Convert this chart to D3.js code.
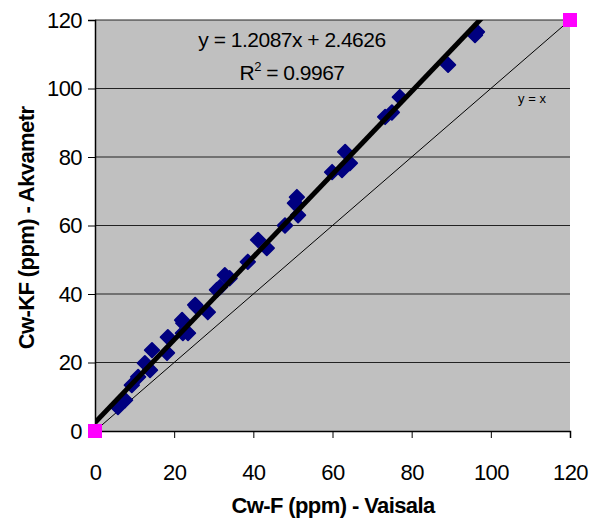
<!DOCTYPE html>
<html>
<head>
<meta charset="utf-8">
<script src="https://cdn.jsdelivr.net/npm/d3@7"></script>
<style>
  html, body { margin: 0; padding: 0; background: #fff; }
  svg { display: block; font-family: "Liberation Sans", Arial, sans-serif; }
</style>
</head>
<body>
<div id="chart"></div>
<script>
(function(){
  // Measured points: Vaisala (x) vs Akvametr (y), ppm.
  const vaisala = [5.8, 7.6, 9.3, 10.9, 12.6, 13.9, 14.4, 18.2, 18.4, 22.2, 22.0, 23.5, 25.3, 28.5,
    22.3, 25.7, 30.8, 31.6, 32.8, 34.0, 38.6, 41.2, 43.4, 48.0, 50.5, 51.0, 51.3,
    59.9, 62.4, 63.2, 64.4, 73.3, 75.0, 77.0, 89.2, 96.0, 96.5];
  const akvametr = [7.0, 9.0, 13.4, 15.8, 19.8, 17.8, 23.6, 22.8, 27.4, 28.6, 32.4, 28.6, 36.8, 34.7,
    31.5, 36.2, 41.2, 42.0, 45.5, 44.6, 49.4, 55.8, 53.4, 60.0, 66.5, 68.3, 63.0,
    75.6, 76.2, 81.5, 78.2, 91.7, 93.0, 97.5, 106.9, 115.6, 116.5];
  // Reference points drawn in magenta (ends of the y = x line).
  const refX = [0, 120];
  const refY = [0, 120];
  const ticks = [0, 20, 40, 60, 80, 100, 120];
  const slope = 1.2087, intercept = 2.4626;

  const width = 590, height = 520;
  const margin = {top: 20, right: 20, bottom: 89, left: 95};
  const innerW = width - margin.left - margin.right;
  const innerH = height - margin.top - margin.bottom;

  const svg = d3.select('#chart').append('svg')
    .attr('width', width).attr('height', height);
  const plot = svg.append('g').attr('transform', `translate(${margin.left},${margin.top})`);

  const x = d3.scaleLinear().domain([0, 120]).range([0, innerW]);
  const y = d3.scaleLinear().domain([0, 120]).range([innerH, 0]);

  plot.append('rect').attr('width', innerW).attr('height', innerH).attr('fill', '#c0c0c0');

  svg.append('clipPath').attr('id', 'clip')
    .append('rect').attr('width', innerW).attr('height', innerH);

  // Horizontal grid lines.
  plot.append('g').selectAll('line')
    .data(ticks.filter(t => t > 0))
    .join('line')
    .attr('x1', 0).attr('x2', innerW)
    .attr('y1', d => y(d)).attr('y2', d => y(d))
    .attr('stroke', '#222').attr('stroke-width', 1);

  const xAxis = plot.append('g')
    .attr('transform', `translate(0,${innerH})`)
    .call(d3.axisBottom(x).tickValues(ticks).tickSize(7).tickPadding(26).tickFormat(d3.format('d')));
  const yAxis = plot.append('g')
    .call(d3.axisLeft(y).tickValues(ticks).tickSize(7).tickPadding(6).tickFormat(d3.format('d')));
  [xAxis, yAxis].forEach(g => {
    g.selectAll('path.domain').attr('stroke', '#000').attr('stroke-width', 1.5);
    g.selectAll('.tick line').attr('stroke', '#000');
    g.selectAll('.tick text').attr('fill', '#000')
      .style('font-size', '22px').style('letter-spacing', '-0.6px')
      .style('font-family', '"Liberation Sans", Arial, sans-serif');
  });

  const marks = plot.append('g').attr('clip-path', 'url(#clip)');

  // y = x reference line.
  marks.append('line')
    .attr('x1', x(0)).attr('y1', y(0)).attr('x2', x(120)).attr('y2', y(120))
    .attr('stroke', '#000').attr('stroke-width', 1);

  // Data diamonds.
  const diamond = d3.symbol().type(d3.symbolDiamond2).size(135);
  marks.append('g').selectAll('path')
    .data(vaisala.map((v, i) => [v, akvametr[i]]))
    .join('path')
    .attr('d', diamond)
    .attr('transform', d => `translate(${x(d[0])},${y(d[1])})`)
    .attr('fill', '#000080')
    .attr('stroke', '#000080').attr('stroke-width', 1.8).attr('stroke-linejoin', 'round');

  // Linear trendline.
  marks.append('line')
    .attr('x1', x(0)).attr('y1', y(intercept))
    .attr('x2', x(120)).attr('y2', y(slope * 120 + intercept))
    .attr('stroke', '#000').attr('stroke-width', 5);

  // Magenta reference squares (not clipped).
  plot.append('g').selectAll('rect')
    .data(refX.map((v, i) => [v, refY[i]]))
    .join('rect')
    .attr('x', d => x(d[0]) - 7).attr('y', d => y(d[1]) - 7)
    .attr('width', 14).attr('height', 14)
    .attr('fill', '#ff00ff');

  // Equation labels.
  plot.append('text')
    .attr('x', 197).attr('y', 27)
    .attr('text-anchor', 'middle').style('font-size', '21px').style('letter-spacing', '-0.5px')
    .attr('fill', '#000')
    .text(`y = ${slope}x + ${intercept}`);
  const r2 = plot.append('text')
    .attr('x', 197).attr('y', 60)
    .attr('text-anchor', 'middle').style('font-size', '21px').style('letter-spacing', '-0.5px')
    .attr('fill', '#000');
  r2.append('tspan').text('R');
  r2.append('tspan').attr('dy', -9).style('font-size', '13px').text('2');
  r2.append('tspan').attr('dy', 9).text(' = 0.9967');

  plot.append('text')
    .attr('x', 437).attr('y', 83)
    .attr('text-anchor', 'middle').style('font-size', '13px').attr('fill', '#000')
    .text('y = x');

  // Axis titles.
  svg.append('text')
    .attr('x', 333).attr('y', 513)
    .attr('text-anchor', 'middle')
    .style('font-size', '22px').style('font-weight', 'bold').style('letter-spacing', '-0.6px')
    .text('Cw-F (ppm) - Vaisala');
  svg.append('text')
    .attr('transform', 'translate(34,228) rotate(-90)')
    .attr('text-anchor', 'middle')
    .style('font-size', '22px').style('font-weight', 'bold').style('letter-spacing', '-0.6px')
    .text('Cw-KF (ppm) - Akvametr');
})();
</script>
</body>
</html>
